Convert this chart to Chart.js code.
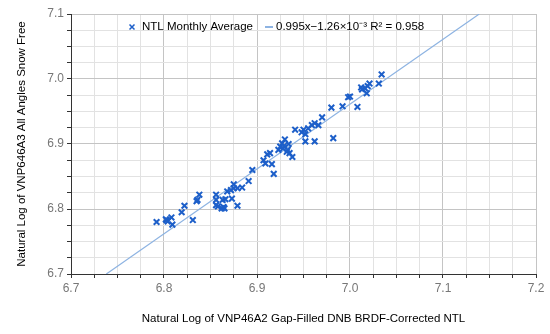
<!DOCTYPE html>
<html>
<head>
<meta charset="utf-8">
<script src="https://cdn.jsdelivr.net/npm/chart.js@4"></script>
<style>
  html, body { margin: 0; padding: 0; background: #fff; }
  #wrap { width: 550px; height: 334px; }
</style>
</head>
<body>
<div id="wrap"><canvas id="c"></canvas></div>
<script>
// monthly NTL pairs (VNP46A2 on x, VNP46A3 on y), natural log
const ntlX = [6.792, 6.802, 6.803, 6.804, 6.808, 6.809, 6.819, 6.822, 6.831, 6.835,
              6.836, 6.838, 6.856, 6.856, 6.856, 6.858, 6.862, 6.864, 6.865, 6.863,
              6.866, 6.868, 6.872, 6.875, 6.875, 6.873, 6.879, 6.879, 6.884, 6.891,
              6.895, 6.907, 6.909, 6.911, 6.914, 6.916, 6.918, 6.923, 6.925, 6.927,
              6.928, 6.930, 6.932, 6.934, 6.935, 6.938, 6.941, 6.948, 6.950, 6.952,
              6.952, 6.955, 6.959, 6.962, 6.962, 6.966, 6.970, 6.980, 6.982, 6.992,
              6.998, 7.000, 7.008, 7.012, 7.013, 7.016, 7.019, 7.021, 7.018, 7.031,
              7.034, 6.929, 6.933];
const ntlY = [6.780, 6.784, 6.783, 6.781, 6.787, 6.776, 6.795, 6.805, 6.783, 6.812,
              6.814, 6.822, 6.822, 6.814, 6.806, 6.804, 6.801, 6.803, 6.801, 6.814,
              6.815, 6.827, 6.829, 6.832, 6.838, 6.816, 6.805, 6.832, 6.833, 6.843,
              6.860, 6.875, 6.870, 6.884, 6.886, 6.869, 6.854, 6.891, 6.896, 6.901,
              6.893, 6.907, 6.888, 6.900, 6.886, 6.880, 6.922, 6.918, 6.922, 6.915,
              6.904, 6.924, 6.929, 6.932, 6.904, 6.929, 6.941, 6.956, 6.909, 6.958,
              6.972, 6.973, 6.957, 6.987, 6.984, 6.986, 6.989, 6.993, 6.978, 6.993,
              7.007, 6.897, 6.891];

// fitted line end points
const fitX = [6.738, 7.139];
const fitY = [6.7, 7.1];

const xTickLabels = ['6.7', '6.8', '6.9', '7.0', '7.1', '7.2'];
const yTickLabels = ['6.7', '6.8', '6.9', '7.0', '7.1'];

const seriesName = 'NTL Monthly Average';
const fitName = '0.995x\u22121.26\u00d710\u207b\u00b3 R\u00b2 = 0.958';

const pointBlue = '#1d5fc9';
const lineBlue = '#8db3e2';

function isMajor(v) {
    return Math.abs(v * 10 - Math.round(v * 10)) < 1e-6;
}
function tickText(v, labels) {
    if (!isMajor(v)) return '';
    const s = v.toFixed(1);
    return labels.includes(s) ? s : '';
}

// legend drawn inside the plot, like the original
const insideLegend = {
    id: 'insideLegend',
    afterDraw(chart) {
        const ctx = chart.ctx;
        const area = chart.chartArea;
        const y = area.top + 13;
        let x = area.left + 61;
        ctx.save();
        ctx.font = '11.5px "Liberation Sans", Arial, sans-serif';
        ctx.textBaseline = 'middle';
        ctx.fillStyle = '#000';

        // cross marker
        ctx.strokeStyle = pointBlue;
        ctx.lineWidth = 1.5;
        ctx.beginPath();
        ctx.moveTo(x - 2.5, y - 2.5); ctx.lineTo(x + 2.5, y + 2.5);
        ctx.moveTo(x + 2.5, y - 2.5); ctx.lineTo(x - 2.5, y + 2.5);
        ctx.stroke();
        x += 10;
        ctx.fillText(seriesName, x, y);
        x += ctx.measureText(seriesName).width + 12;

        // line marker
        ctx.strokeStyle = lineBlue;
        ctx.lineWidth = 2;
        ctx.beginPath();
        ctx.moveTo(x, y); ctx.lineTo(x + 8, y);
        ctx.stroke();
        x += 11;
        ctx.fillText(fitName, x, y);
        ctx.restore();
    }
};

const tickFont = { family: '"Liberation Sans", Arial, sans-serif', size: 12 };
const titleFont = { family: '"Liberation Sans", Arial, sans-serif', size: 11.5 };

new Chart(document.getElementById('c'), {
    type: 'scatter',
    data: {
        datasets: [{
            label: seriesName,
            data: ntlX.map((x, i) => ({ x: x, y: ntlY[i] })),
            pointStyle: 'crossRot',
            pointRadius: 4,
            pointBorderWidth: 2,
            borderColor: pointBlue,
            backgroundColor: pointBlue,
            order: 0
        }, {
            label: fitName,
            data: fitX.map((x, i) => ({ x: x, y: fitY[i] })),
            showLine: true,
            pointRadius: 0,
            borderColor: lineBlue,
            borderWidth: 1.2,
            order: 1
        }]
    },
    options: {
        responsive: true,
        maintainAspectRatio: false,
        animation: false,
        layout: { padding: { left: 0, top: 14, right: 14, bottom: 0 } },
        plugins: { legend: { display: false }, tooltip: { enabled: false } },
        scales: {
            x: {
                type: 'linear',
                min: 6.7,
                max: 7.2,
                afterFit(s) { s.height = 60; },
                border: { color: '#333', width: 1 },
                grid: {
                    color: c => isMajor(c.tick.value) ? '#c4c4c4' : '#e2e2e2',
                    tickColor: '#333',
                    tickLength: 4
                },
                ticks: {
                    stepSize: 0.025,
                    autoSkip: false,
                    maxRotation: 0,
                    padding: 3,
                    color: '#777',
                    font: tickFont,
                    callback: v => tickText(v, xTickLabels)
                },
                title: {
                    display: true,
                    text: 'Natural Log of VNP46A2 Gap-Filled DNB BRDF-Corrected NTL',
                    color: '#000',
                    font: titleFont,
                    padding: { top: 4, bottom: 8 }
                }
            },
            y: {
                type: 'linear',
                min: 6.7,
                max: 7.1,
                afterFit(s) { s.width = 71; },
                border: { color: '#333', width: 1 },
                grid: {
                    color: c => isMajor(c.tick.value) ? '#c4c4c4' : '#e2e2e2',
                    tickColor: '#333',
                    tickLength: 4
                },
                ticks: {
                    stepSize: 0.025,
                    autoSkip: false,
                    padding: 3,
                    color: '#777',
                    font: tickFont,
                    callback: v => tickText(v, yTickLabels)
                },
                title: {
                    display: true,
                    text: 'Natural Log of VNP646A3 All Angles Snow Free',
                    color: '#000',
                    font: titleFont,
                    padding: { top: 15, bottom: 4 }
                }
            }
        }
    },
    plugins: [insideLegend]
});
</script>
</body>
</html>
